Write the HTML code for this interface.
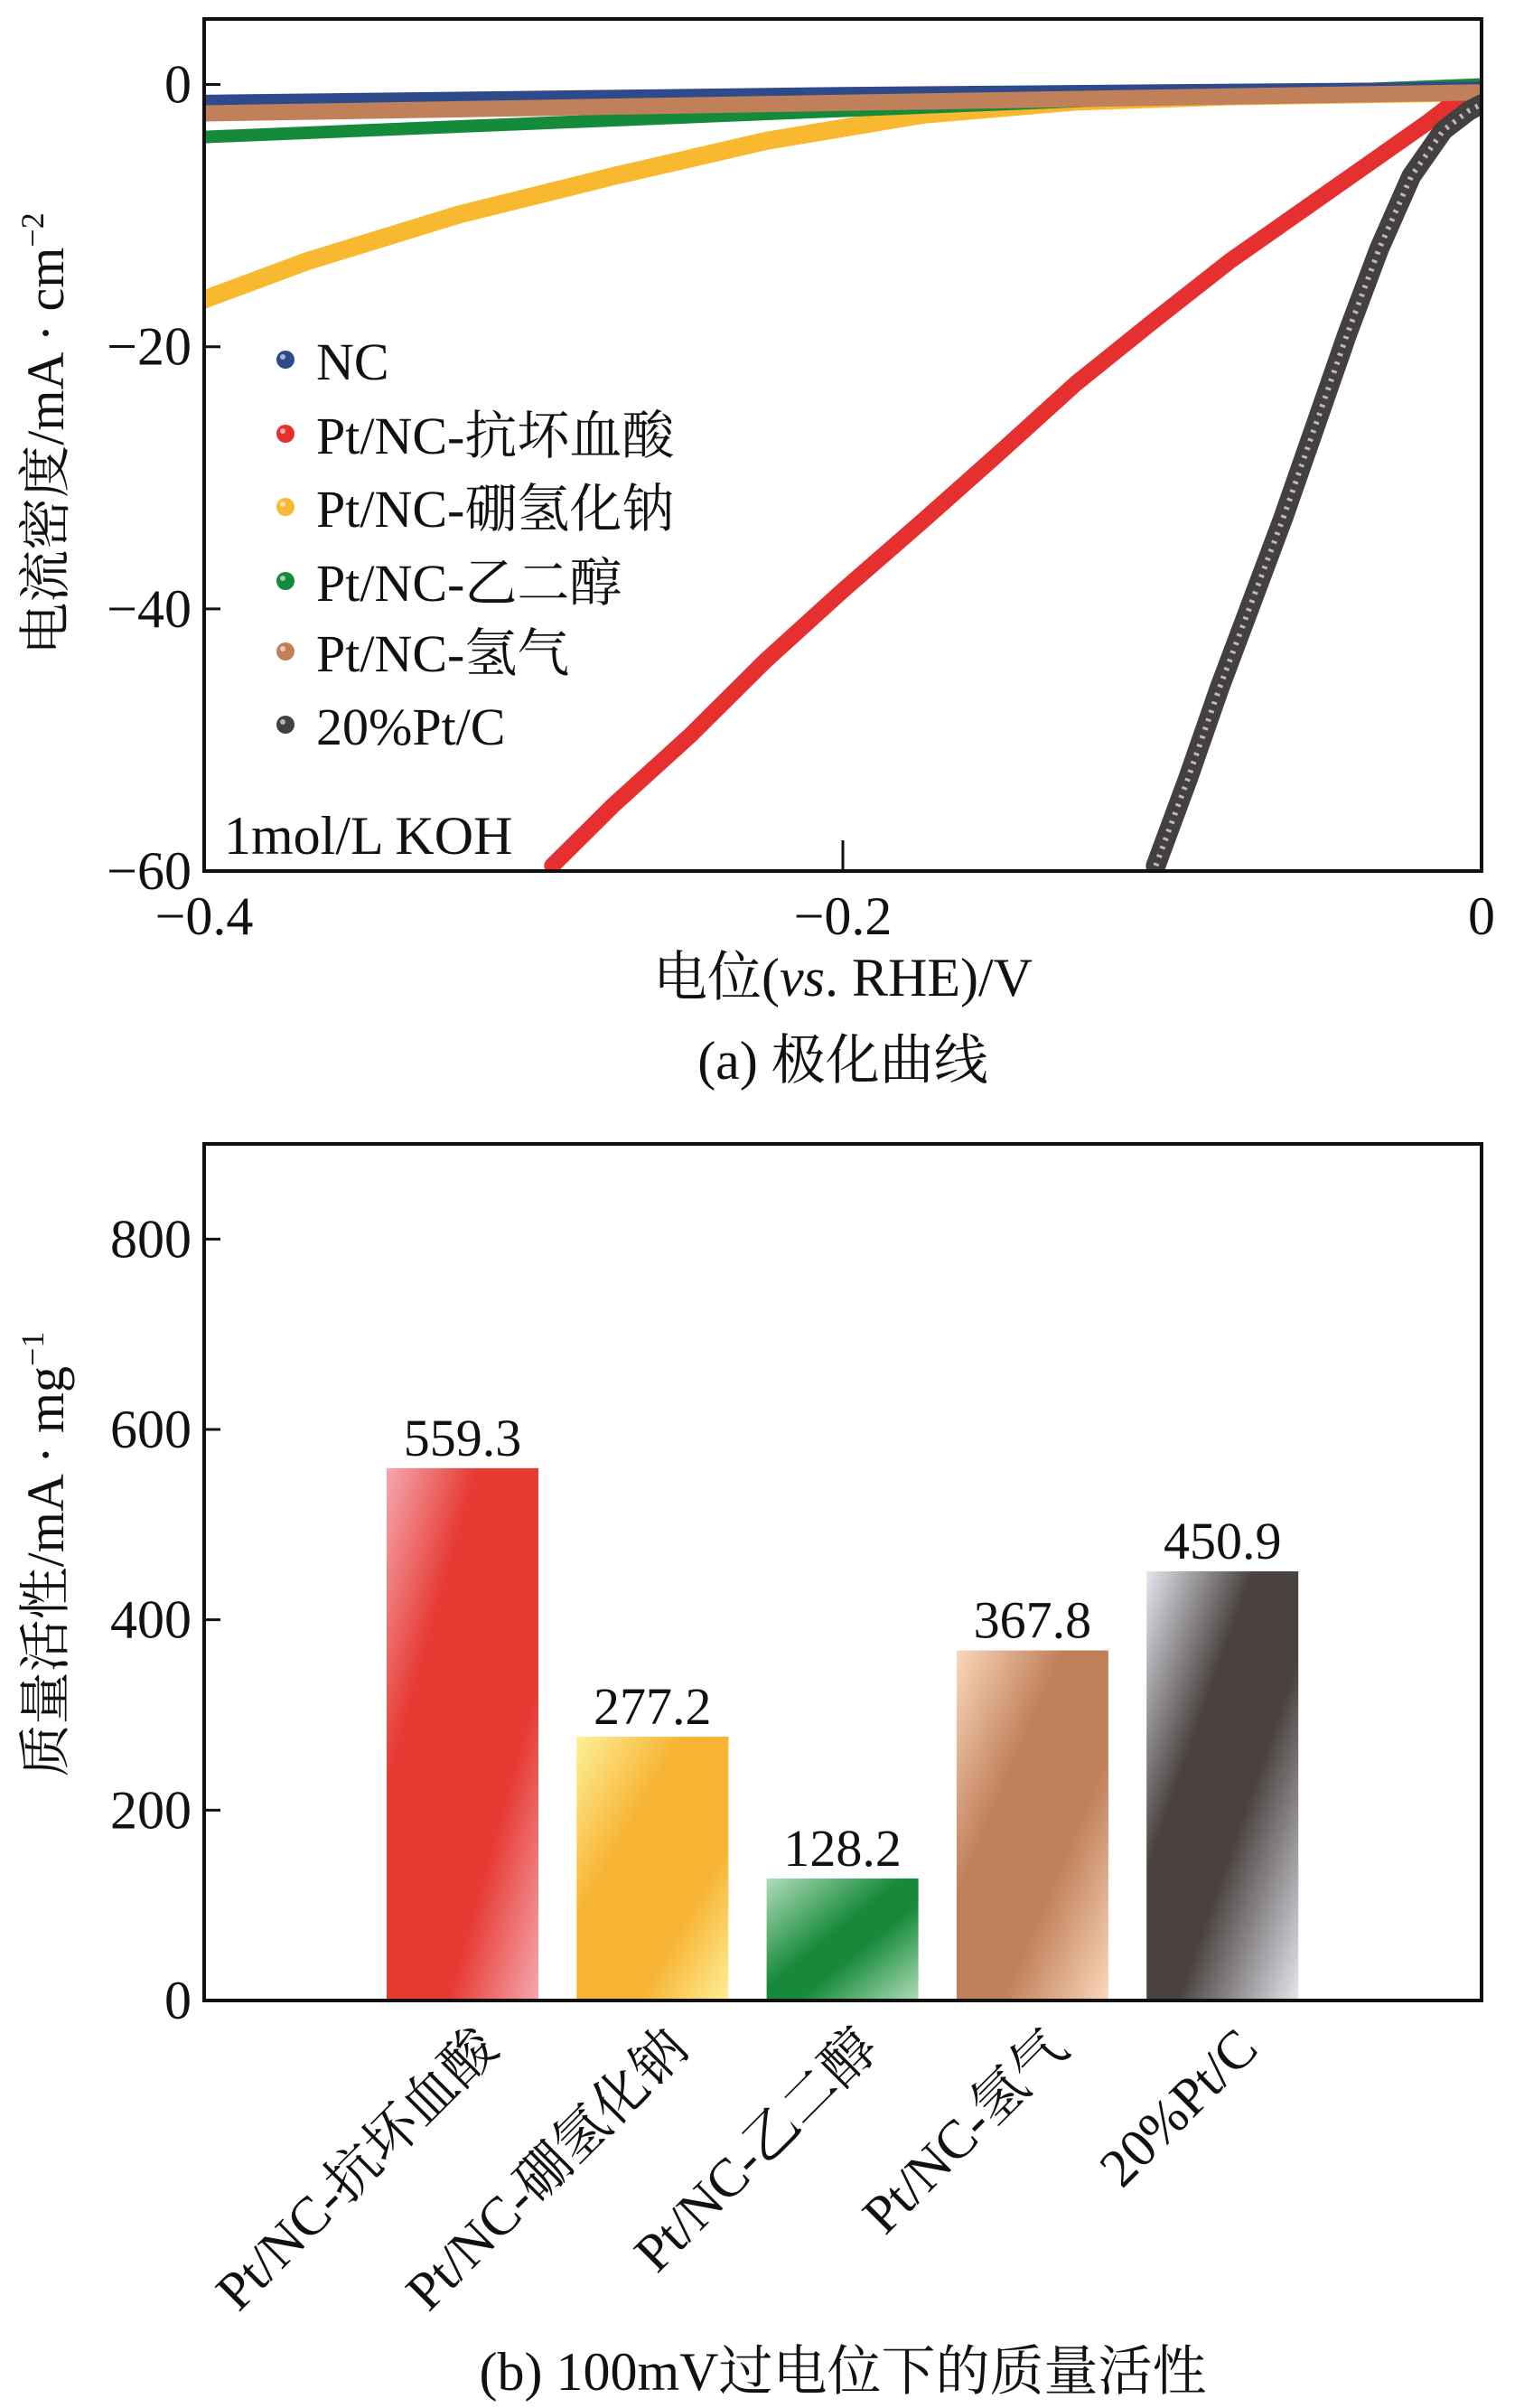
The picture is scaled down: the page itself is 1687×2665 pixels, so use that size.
<!DOCTYPE html>
<html><head><meta charset="utf-8">
<style>
html,body{margin:0;padding:0;background:#fff;}
svg{display:block;}
text{font-family:"Liberation Serif","Noto Serif CJK SC","Noto Sans CJK SC",serif;fill:#111;}
</style></head>
<body>
<svg id="chart" width="1687" height="2665" viewBox="0 0 1687 2665" xmlns="http://www.w3.org/2000/svg">
<defs>
<linearGradient id="g-red" x1="0" y1="0" x2="1" y2="1"><stop offset="0" stop-color="#f5a8b0"/><stop offset="0.3" stop-color="#e63a32"/><stop offset="0.7" stop-color="#e63a32"/><stop offset="1" stop-color="#f5a8b0"/></linearGradient>
<linearGradient id="g-yellow" x1="0" y1="0" x2="1" y2="1"><stop offset="0" stop-color="#fdf098"/><stop offset="0.35" stop-color="#f7b332"/><stop offset="0.7" stop-color="#f7b332"/><stop offset="1" stop-color="#fdf098"/></linearGradient>
<linearGradient id="g-green" x1="0" y1="0" x2="1" y2="1"><stop offset="0" stop-color="#b0dcb8"/><stop offset="0.45" stop-color="#168a3a"/><stop offset="0.6" stop-color="#168a3a"/><stop offset="1" stop-color="#b0dcb8"/></linearGradient>
<linearGradient id="g-brown" x1="0" y1="0" x2="1" y2="1"><stop offset="0" stop-color="#fad8bc"/><stop offset="0.35" stop-color="#c0805a"/><stop offset="0.65" stop-color="#c0805a"/><stop offset="1" stop-color="#fad8bc"/></linearGradient>
<linearGradient id="g-black" x1="0" y1="0" x2="1" y2="1"><stop offset="0" stop-color="#e4e6ee"/><stop offset="0.35" stop-color="#4a4240"/><stop offset="0.6" stop-color="#4a4240"/><stop offset="1" stop-color="#e4e6ee"/></linearGradient>
</defs>
<g id="pa"></g>
<g id="pb"></g>
</svg>
<script>
// ---------- Panel (a) data ----------
const xTicksA = [-0.4, -0.2, 0];
const xTickLabelsA = ["\u22120.4", "\u22120.2", "0"];
const yTicksA = [0, -20, -40, -60];
const yTickLabelsA = ["0", "\u221220", "\u221240", "\u221260"];
const seriesNames = ["NC", "Pt/NC-抗坏血酸", "Pt/NC-硼氢化钠", "Pt/NC-乙二醇", "Pt/NC-氢气", "20%Pt/C"];
const seriesColors = ["#2e4a8a", "#e63030", "#f8b830", "#148a3a", "#c0805a", "#444040"];
const ncX = [-0.4, -0.3, -0.2, -0.1, 0];
const ncY = [-1.2, -0.9, -0.6, -0.4, -0.2];
const redX = [-0.291, -0.272, -0.248, -0.224, -0.2, -0.175, -0.151, -0.127, -0.103, -0.079, -0.055, -0.031, -0.017, -0.01, -0.002];
const redY = [-59.6, -55, -49.7, -43.9, -38.6, -33.3, -28.1, -22.8, -18.1, -13.5, -9.4, -5.3, -2.9, -1.6, -0.9];
const yellowX = [-0.4, -0.368, -0.32, -0.272, -0.224, -0.175, -0.127, -0.079, 0];
const yellowY = [-16.4, -13.5, -9.9, -7.0, -4.3, -2.3, -1.3, -0.9, -0.6];
const greenX = [-0.4, -0.3, -0.2, -0.1, 0];
const greenY = [-4.0, -3.0, -2.0, -1.0, 0];
const brownX = [-0.4, -0.3, -0.2, -0.1, 0];
const brownY = [-2.2, -1.8, -1.4, -1.0, -0.6];
const blackX = [-0.102, -0.092, -0.082, -0.072, -0.062, -0.052, -0.042, -0.032, -0.022, -0.012, -0.004, 0];
const blackY = [-59.6, -53, -46, -39.5, -33, -26, -19, -12.5, -7, -3.5, -2, -1.5];

// ---------- Panel (b) data ----------
const categoriesB = ["Pt/NC-抗坏血酸", "Pt/NC-硼氢化钠", "Pt/NC-乙二醇", "Pt/NC-氢气", "20%Pt/C"];
const valuesB = [559.3, 277.2, 128.2, 367.8, 450.9];
const valueLabelsB = ["559.3", "277.2", "128.2", "367.8", "450.9"];
const yTicksB = [0, 200, 400, 600, 800];
const yTickLabelsB = ["0", "200", "400", "600", "800"];

const NS = "http://www.w3.org/2000/svg";
function mk(parent, tag, attrs, txt) {
  const el = document.createElementNS(NS, tag);
  for (const k in attrs) el.setAttribute(k, attrs[k]);
  if (txt !== undefined) el.textContent = txt;
  parent.appendChild(el);
  return el;
}

// ---- Panel A ----
const pa = document.getElementById("pa");
const A = {l: 226, r: 1640, t: 21, b: 964, x0: -0.4, x1: 0, y0: -60, y1: 5};
const xa = v => A.l + (v - A.x0) / (A.x1 - A.x0) * (A.r - A.l);
const ya = v => A.b - (v - A.y0) / (A.y1 - A.y0) * (A.b - A.t);

const clip = mk(pa, "clipPath", {id: "clipA"});
mk(clip, "rect", {x: A.l, y: A.t, width: A.r - A.l, height: A.b - A.t});

const seriesData = [[ncX, ncY], [redX, redY], [yellowX, yellowY], [greenX, greenY], [brownX, brownY], [blackX, blackY]];
const drawOrder = [2, 1, 3, 0, 4, 5];
const widths = [12, 18, 20, 14, 18, 22];
drawOrder.forEach(i => {
  const [xs, ys] = seriesData[i];
  const pts = xs.map((x, j) => xa(x).toFixed(1) + "," + ya(ys[j]).toFixed(1)).join(" ");
  const pl = mk(pa, "polyline", {points: pts, fill: "none", stroke: seriesColors[i], "stroke-width": widths[i], "stroke-linejoin": "round", "stroke-linecap": "round", "clip-path": "url(#clipA)"});
  
  
  if (i === 5) {
    const d = mk(pa, "polyline", {points: pts, fill: "none", stroke: "#bbb", "stroke-width": 6, "stroke-dasharray": "3 7", "clip-path": "url(#clipA)"});
    
    
  }
});

const frameA = mk(pa, "rect", {x: A.l, y: A.t, width: A.r - A.l, height: A.b - A.t, fill: "none", stroke: "#111", "stroke-width": 4});



yTicksA.forEach((v, i) => {
  const tk = mk(pa, "line", {x1: A.l, x2: A.l + 18, y1: ya(v), y2: ya(v), stroke: "#111", "stroke-width": 3});
  
  
  const t = mk(pa, "text", {x: A.l - 14, y: ya(v) + 20, "text-anchor": "end", "font-size": 60}, yTickLabelsA[i]);
  
  
});
xTicksA.forEach((v, i) => {
  const tk = mk(pa, "line", {x1: xa(v), x2: xa(v), y1: A.b, y2: A.b - 34, stroke: "#111", "stroke-width": 3});
  
  
  const t = mk(pa, "text", {x: xa(v), y: A.b + 70, "text-anchor": "middle", "font-size": 60}, xTickLabelsA[i]);
  
  
});

const xtA = mk(pa, "text", {x: 933, y: 1102, "text-anchor": "middle", "font-size": 60});


xtA.innerHTML = '电位(<tspan font-style="italic">vs</tspan>. RHE)/V';
const ytA = mk(pa, "text", {x: 0, y: 0, "text-anchor": "middle", "font-size": 58, transform: "translate(70,480) rotate(-90)"});


ytA.innerHTML = '电流密度/mA · cm<tspan dy="-22" font-size="36">−2</tspan>';
const capA = mk(pa, "text", {x: 933, y: 1194, "text-anchor": "middle", "font-size": 60}, "(a) 极化曲线");


const koh = mk(pa, "text", {x: 248, y: 945, "font-size": 60}, "1mol/L KOH");



const legY = [402, 484, 565, 647, 725, 806];
seriesNames.forEach((n, i) => {
  const g = mk(pa, "g", {});
  
  
  mk(g, "circle", {cx: 316, cy: legY[i] - 4, r: 10, fill: seriesColors[i]});
  mk(g, "circle", {cx: 313, cy: legY[i] - 7, r: 3, fill: "#fff", opacity: 0.6});
  mk(g, "text", {x: 350, y: legY[i] + 18, "font-size": 58}, n);
});

// ---- Panel B ----
const pb = document.getElementById("pb");
const B = {l: 226, r: 1640, t: 1266, b: 2214, y0: 0, y1: 900};
const yb = v => B.b - (v - B.y0) / (B.y1 - B.y0) * (B.b - B.t);
const barW = 168;
const xb = i => B.l + 286 + i * 210.3;
const grads = ["g-red", "g-yellow", "g-green", "g-brown", "g-black"];

categoriesB.forEach((c, i) => {
  const r = mk(pb, "rect", {x: xb(i) - barW / 2, y: yb(valuesB[i]), width: barW, height: yb(0) - yb(valuesB[i]), fill: "url(#" + grads[i] + ")"});
  
  
  const t = mk(pb, "text", {x: xb(i), y: yb(valuesB[i]) - 14, "text-anchor": "middle", "font-size": 58}, valueLabelsB[i]);
  
  
  const lx = xb(i) + 42, ly = 2270;
  const cl = mk(pb, "text", {x: lx, y: ly, "text-anchor": "end", "font-size": 60, transform: "rotate(-45 " + lx + " " + ly + ")"}, c);
  
  
});

const frameB = mk(pb, "rect", {x: B.l, y: B.t, width: B.r - B.l, height: B.b - B.t, fill: "none", stroke: "#111", "stroke-width": 4});


yTicksB.forEach((v, i) => {
  const tk = mk(pb, "line", {x1: B.l, x2: B.l + 18, y1: yb(v), y2: yb(v), stroke: "#111", "stroke-width": 3});
  
  
  const t = mk(pb, "text", {x: B.l - 14, y: yb(v) + 20, "text-anchor": "end", "font-size": 60}, yTickLabelsB[i]);
  
  
});
const ytB = mk(pb, "text", {x: 0, y: 0, "text-anchor": "middle", "font-size": 58, transform: "translate(70,1720) rotate(-90)"});


ytB.innerHTML = '质量活性/mA · mg<tspan dy="-22" font-size="36">−1</tspan>';
const capB = mk(pb, "text", {x: 933, y: 2645, "text-anchor": "middle", "font-size": 60}, "(b) 100mV过电位下的质量活性");


</script>
</body></html>
